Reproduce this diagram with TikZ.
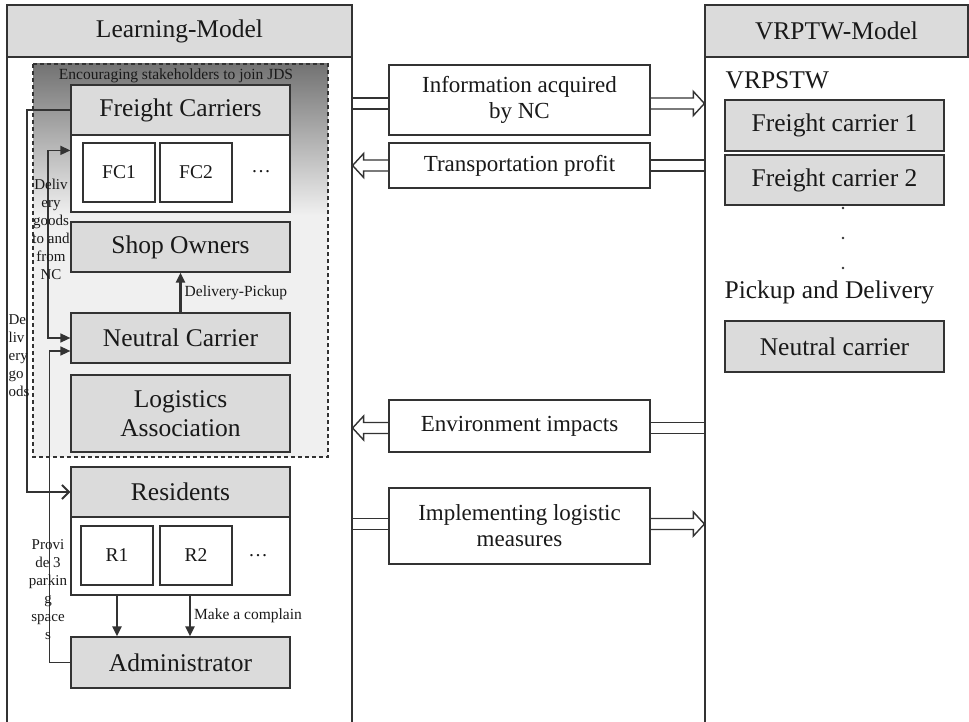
\documentclass[tikz,border=0pt]{standalone}
\usepackage{fontspec}
\setmainfont{Liberation Serif}
\usetikzlibrary{arrows.meta,calc}

\begin{document}
\begin{tikzpicture}[x=1pt,y=-1pt,line width=1.2,draw=black!80,text=black!90,
    >={Triangle[length=10pt,width=9pt]}]
    \tikzstyle{head}=[draw,fill=black!14,minimum height=52,inner sep=0,font=\fontsize{25.5}{29}\selectfont]
    \tikzstyle{box}=[draw,fill=black!14,minimum width=219,minimum height=50,inner sep=0,align=center,font=\fontsize{25.5}{29}\selectfont]
    \tikzstyle{body}=[draw,fill=white,minimum width=219,minimum height=77,inner sep=0]
    \tikzstyle{member}=[draw,fill=white,minimum width=72,minimum height=59,inner sep=0,font=\fontsize{19.5}{22}\selectfont]
    \tikzstyle{mid}=[draw,fill=white,minimum width=261,minimum height=45,inner sep=0,align=center,font=\fontsize{23}{26}\selectfont]
    \tikzstyle{small}=[inner sep=3,font=\fontsize{15.5}{18}\selectfont]
    \tikzstyle{side}=[inner sep=0,font=\fontsize{15}{18}\selectfont]
    \tikzstyle{txt}=[inner sep=0,font=\fontsize{25.5}{29}\selectfont]
    \tikzstyle{stub}=[line width=1.4,to path={($(\tikztostart)+(0,5.5)$) -- ($(\tikztotarget)+(0,5.5)$)
        ($(\tikztostart)+(0,-5.5)$) -- ($(\tikztotarget)+(0,-5.5)$)}]
    \tikzset{hollow/.style={line width=1.4,to path={($(\tikztostart)+(0,5.5)$) -- ($(\tikztotarget)+(#1,5.5)$)
        -- ($(\tikztotarget)+(#1,12)$) -- (\tikztotarget) -- ($(\tikztotarget)+(#1,-12)$)
        -- ($(\tikztotarget)+(#1,-5.5)$) -- ($(\tikztostart)+(0,-5.5)$)}}}

    \useasboundingbox (0,0) rectangle (969,722);

    % learning model panel
    \draw (7,722) -- (7,5) -- (352,5) -- (352,722);
    \node[head,minimum width=345] (lmhead) at (179.5,31) {Learning-Model};

    % stakeholders joining JDS
    \shade[top color=black!55,bottom color=black!6] (33,64) rectangle (328,215);
    \fill[black!6] (33,215) rectangle (328,457);
    \draw[dash pattern=on 4pt off 3pt] (33,64) rectangle (328,457);
    \node[small] (jds) at (176,76) {Encouraging stakeholders to join JDS};

    % freight carriers
    \node[box] (fchead) at (180.5,110) {Freight Carriers};
    \node[body] (fcbody) at (180.5,173.5) {};
    \foreach \i/\x in {1/119,2/196}
    \node[member] (fc\i) at (\x,172.5) {FC\i};
    \node[member,draw=none,fill=none] (fcdots) at (261,172) {\dots};

    \node[box] (shop) at (180.5,247) {Shop Owners};
    \node[box] (nc) at (180.5,338) {Neutral Carrier};
    \node[box,minimum height=77] (la) at (180.5,413.5) {Logistics\\Association};

    % residents and administrator
    \node[box] (reshead) at (180.5,492) {Residents};
    \node[body,minimum height=78] (resbody) at (180.5,556) {};
    \foreach \i/\x in {1/117,2/196}
    \node[member] (r\i) at (\x,555.5) {R\i};
    \node[member,draw=none,fill=none] (rdots) at (258,556) {\dots};
    \node[box,minimum height=51] (admin) at (180.5,662.5) {Administrator};

    \draw[->,line width=2.4] (nc.north) -- node[small,right] (dp) {Delivery-Pickup} (shop.south);
    \draw[->,line width=2.4] (resbody.south -| r1) -- (admin.north -| r1);
    \draw[->,line width=2.4] ($(resbody.south)+(9.5,0)$) -- node[small,right] (mc) {Make a complain} ($(admin.north)+(9.5,0)$);

    % lanes on the left side
    \coordinate (lane1) at (27,0);
    \coordinate (lane2) at (48,0);
    \coordinate (lane3) at (49.5,0);
    \coordinate (fcin) at ($(fcbody.north west)+(0,16)$);
    \coordinate (ncin) at ($(nc.west)+(0,13)$);
    \draw[-{Straight Barb[length=7pt,width=14pt,line width=2pt]},line width=1.4]
      (fchead.west) -- (fchead.west -| lane1) -- (reshead.west -| lane1) -- (reshead.west);
    \draw[<->,line width=1.4] (fcin) -- (fcin -| lane2) -- (nc.west -| lane2) -- (nc.west);
    \draw[->,line width=1.4] (admin.west) -- (admin.west -| lane3) -- (ncin -| lane3) -- (ncin);

    \node[side,align=center] (lbl1) at (51,229) {Deliv\\ery\\goods\\to and\\from\\NC};
    \node[side,align=left,anchor=west] (lbl2) at (8,356) {De\\liv\\ery\\go\\ods};
    \node[side,align=center] (lbl3) at (48,590) {Provi\\de 3\\parkin\\g\\space\\s};

    % VRPTW model panel
    \draw (705,57) -- (705,722);
    \node[head,minimum width=263] (vrhead) at (836.5,31) {VRPTW-Model};
    \node[txt,anchor=base west] (vrpstw) at (725,89) {VRPSTW};
    \node[box,minimum height=51] (fc1r) at (834.5,125.5) {Freight carrier 1};
    \node[box] (fc2r) at (834.5,180) {Freight carrier 2};
    \foreach \y in {208,238,268}
    \fill[black!80] (843,\y) circle (1.3);
    \node[txt,anchor=base west] (pd) at (724,298) {Pickup and Delivery};
    \node[box,minimum height=51] (ncr) at (834.5,346.5) {Neutral carrier};

    % exchanged information between the two models
    \node[mid,minimum height=70] (info) at (519.5,100) {Information acquired\\by NC};
    \node[mid] (profit) at (519.5,165.5) {Transportation profit};
    \node[mid,minimum height=52] (env) at (519.5,426) {Environment impacts};
    \node[mid,minimum height=76] (impl) at (519.5,526) {Implementing logistic\\measures};

    \foreach \n/\dy in {info/3.5,profit/0,env/2,impl/-2} {
      \coordinate (\n-l) at ($(lmhead.east |- \n.west)+(0,\dy)$);
      \coordinate (\n-r) at ($(vrhead.west |- \n.east)+(0,\dy)$);
      \coordinate (\n-bl) at ($(\n.west)+(0,\dy)$);
      \coordinate (\n-br) at ($(\n.east)+(0,\dy)$);
    }
    \draw[stub] (info-l) to (info-bl);
    \draw[hollow=-11] (info-br) to (info-r);
    \draw[hollow=11] (profit-bl) to (profit-l);
    \draw[stub] (profit-br) to (profit-r);
    \draw[hollow=11] (env-bl) to (env-l);
    \draw[stub] (env-br) to (env-r);
    \draw[stub] (impl-l) to (impl-bl);
    \draw[hollow=-11] (impl-br) to (impl-r);
\end{tikzpicture}
\end{document}
